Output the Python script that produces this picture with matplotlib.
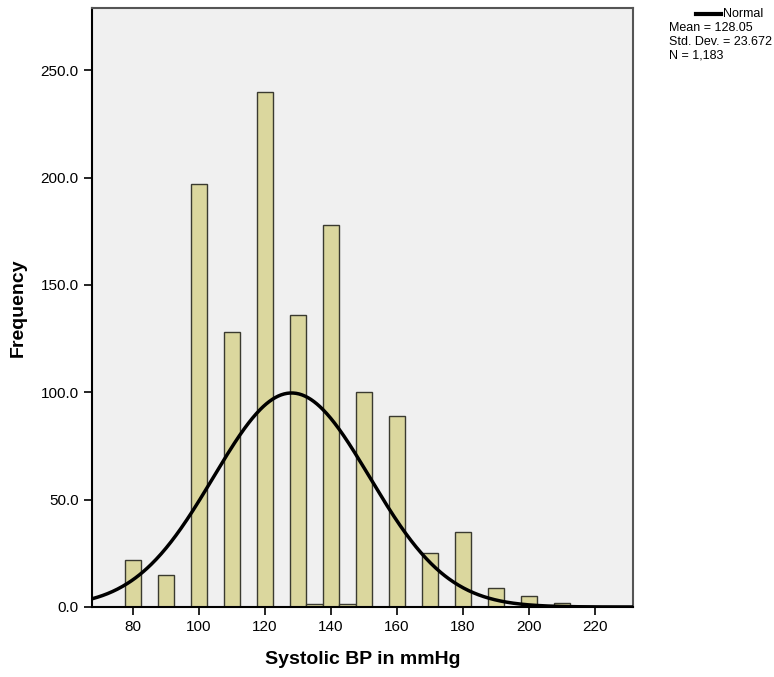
import numpy as np
import matplotlib
matplotlib.use('Agg')
import matplotlib.pyplot as plt

plt.rcParams['font.family'] = ['Liberation Sans', 'DejaVu Sans']

# histogram data (bin centres, counts)
bin_centres = [80, 90, 100, 110, 120, 130, 135, 140, 145, 150, 160, 170, 180, 190, 200, 210]
counts = [22, 15, 197, 128, 240, 136, 1.5, 178, 1.5, 100, 89, 25, 35, 9, 5, 2]
bin_width = 5.0

# fitted normal stats from the legend
mean_bp = 128.05
sd_bp = 23.672
n_obs = 1183

x_ticks = [80, 100, 120, 140, 160, 180, 200, 220]
y_ticks = [0, 50, 100, 150, 200, 250]

fig = plt.figure(figsize=(7.74, 6.77), dpi=100)
ax = fig.add_axes([0.1189, 0.1034, 0.8178 - 0.1189, 0.9882 - 0.1034])
ax.set_facecolor('#f0f0f0')

ax.bar(bin_centres, counts, width=bin_width * 1.02, color='#dbd79e',
       edgecolor='#3a3a30', linewidth=1.0, zorder=2)

xs = np.linspace(60, 240, 600)
ys = n_obs * bin_width / (sd_bp * np.sqrt(2 * np.pi)) * np.exp(-0.5 * ((xs - mean_bp) / sd_bp) ** 2)
line, = ax.plot(xs, ys, color='black', linewidth=2.5, zorder=3)

ax.set_xlim(67.6, 231.5)
ax.set_ylim(0, 279)
ax.set_xticks(x_ticks)
ax.set_xticklabels([str(t) for t in x_ticks], fontsize=11)
ax.set_yticks(y_ticks)
ax.set_yticklabels([f'{t:.1f}' for t in y_ticks], fontsize=11)
ax.tick_params(axis='both', direction='out', length=6, width=1.2, color='black')

for side in ['left', 'bottom']:
    ax.spines[side].set_color('black')
    ax.spines[side].set_linewidth(1.5)
for side in ['top', 'right']:
    ax.spines[side].set_color('#555555')
    ax.spines[side].set_linewidth(1.5)

ax.set_xlabel('Systolic BP in mmHg', fontsize=14, fontweight='bold', labelpad=12)
ax.set_ylabel('Frequency', fontsize=14, fontweight='bold', labelpad=10)

# legend area on the right
fig.lines.append(plt.Line2D([696 / 774, 721 / 774], [1 - 14 / 677, 1 - 14 / 677],
                            color='black', linewidth=3, transform=fig.transFigure))
fig.text(723 / 774, 1 - 14 / 677, 'Normal', fontsize=9, va='center', ha='left')
fig.text(669 / 774, 1 - 28 / 677, f'Mean = {mean_bp:.2f}', fontsize=9, va='center', ha='left')
fig.text(669 / 774, 1 - 42 / 677, f'Std. Dev. = {sd_bp:.3f}', fontsize=9, va='center', ha='left')
fig.text(669 / 774, 1 - 56 / 677, f'N = {n_obs:,}', fontsize=9, va='center', ha='left')

fig.savefig('out.png', dpi=100, facecolor='white')
